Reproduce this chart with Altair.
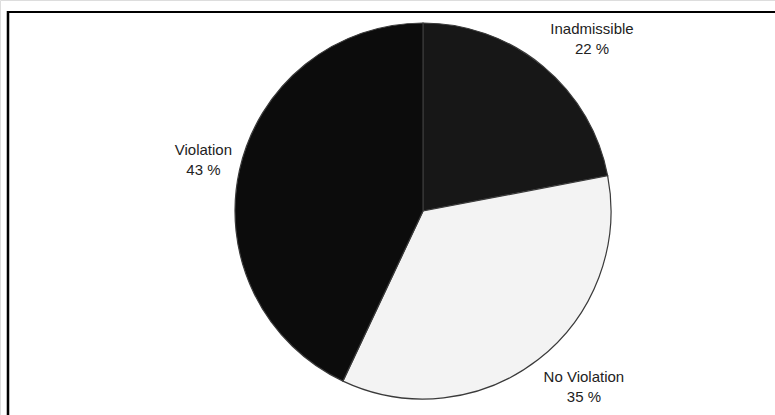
import altair as alt
import pandas as pd

categories = ["Inadmissible", "No Violation", "Violation"]
percent = [22, 35, 43]
colors = ["#171717", "#f3f3f3", "#0c0c0c"]

df = pd.DataFrame({
    "category": categories,
    "percent": percent,
    "order": list(range(len(categories))),
    "label": [f"{c}\n{p} %" for c, p in zip(categories, percent)],
})

CX, CY, R = 423, 211, 188
theta_scale = alt.Scale(domain=[0, 100], range=[0, 6.283185307179586])

base = alt.Chart(df)

pie = base.mark_arc(radius=R, x=CX, y=CY, stroke="#3a3a3a", strokeWidth=1.2).encode(
    theta=alt.Theta("percent:Q", stack=True, scale=theta_scale),
    color=alt.Color("category:N", scale=alt.Scale(domain=categories, range=colors), legend=None),
    order=alt.Order("order:Q"),
)

with_mid = base.transform_window(
    cum="sum(percent)", sort=[alt.SortField("order")], frame=[None, 0]
).transform_calculate(mid="datum.cum - datum.percent / 2")

offsets = {
    "Inadmissible": (240, 16, 3),
    "No Violation": (225, 23, -12),
    "Violation": (224, -1, -12),
}

text_layers = []
for cat in categories:
    r, dx, dy = offsets[cat]
    t = with_mid.transform_filter(alt.datum.category == cat).mark_text(
        radius=r, x=CX, y=CY, dx=dx, dy=dy,
        font="Liberation Sans", fontSize=15, lineHeight=20,
        lineBreak="\n", align="center", baseline="middle", color="#222222",
    ).encode(
        theta=alt.Theta("mid:Q", stack=None, scale=theta_scale),
        text="label:N",
    )
    text_layers.append(t)

frame_top = alt.Chart(df).mark_rule(color="#000000", strokeWidth=2.2).encode(
    x=alt.value(7), x2=alt.value(775), y=alt.value(12)
)
frame_left = alt.Chart(df).mark_rule(color="#000000", strokeWidth=2.2).encode(
    x=alt.value(8), y=alt.value(11), y2=alt.value(415)
)

chart = alt.layer(pie, *text_layers, frame_top, frame_left).properties(
    width=775, height=415,
    autosize=alt.AutoSizeParams(type="none"),
    padding=0,
).configure_view(stroke=None).configure(background="#ffffff")

chart.save("out.html", embed_options={"renderer": "svg", "actions": False})
